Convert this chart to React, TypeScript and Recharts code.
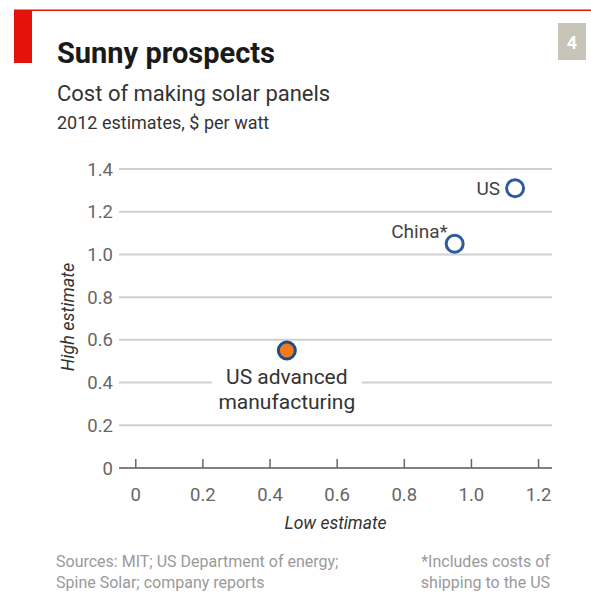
import { ScatterChart, Scatter, XAxis, YAxis, CartesianGrid, Label } from 'recharts';

const places = ['US', 'China*', 'US advanced manufacturing'];
const lowEstimate = [1.13, 0.95, 0.45];
const highEstimate = [1.31, 1.05, 0.55];
const xTicks = [0, 0.2, 0.4, 0.6, 0.8, 1.0, 1.2];
const yTicks = [0, 0.2, 0.4, 0.6, 0.8, 1.0, 1.2, 1.4];

const points = places.map((name, i) => ({ name, low: lowEstimate[i], high: highEstimate[i] }));

const FONT = 'Roboto, "Open Sans", sans-serif';
const BLUE = '#2c5b9e';
const fmt = (v: number) => (v === 0 ? '0' : v.toFixed(1));

function Dot(props: any) {
  const { cx, cy, payload } = props;
  const txt = { fontFamily: FONT, fill: '#444', dominantBaseline: 'central' as const };
  if (payload.name === 'US advanced manufacturing') {
    return (
      <g>
        <rect x={cx - 75} y={cy + 13} width={150} height={52} fill="#fff" />
        <text x={cx} y={cy + 26} textAnchor="middle" fontSize={21} {...txt} fill="#333">US advanced</text>
        <text x={cx} y={cy + 51} textAnchor="middle" fontSize={21} {...txt} fill="#333">manufacturing</text>
        <circle cx={cx} cy={cy} r={8.5} fill="#f37a1f" stroke="#1f4c85" strokeWidth={3} />
      </g>
    );
  }
  const isUS = payload.name === 'US';
  return (
    <g>
      <text x={cx + (isUS ? -15 : -7)} y={cy + (isUS ? 0 : -12)} textAnchor="end" fontSize={19} {...txt}>
        {payload.name}
      </text>
      <circle cx={cx} cy={cy} r={8.5} fill="#fff" stroke={BLUE} strokeWidth={3} />
    </g>
  );
}

function XTick(props: any) {
  const { x, y, payload } = props;
  return (
    <g>
      <line x1={x} x2={x} y1={y - 9} y2={y} stroke="#666" strokeWidth={1.5} />
      <text x={x} y={y + 27} textAnchor="middle" dominantBaseline="central" fontFamily={FONT} fontSize={18.5} fill="#666">
        {fmt(payload.value)}
      </text>
    </g>
  );
}

export default function App() {
  return (
    <div style={{ position: 'absolute', left: 0, top: 0, width: 591, height: 593, background: '#fff' }}>
      <ScatterChart width={591} height={593} margin={{ top: 169, right: 39, bottom: 60, left: 0 }}>
        <CartesianGrid vertical={false} stroke="#cfcfcf" strokeWidth={2} />
        <XAxis
          type="number"
          dataKey="low"
          domain={[-0.05, 1.24]}
          ticks={xTicks}
          tick={<XTick />}
          tickSize={0}
          tickMargin={0}
          tickLine={false}
          axisLine={{ stroke: '#666', strokeWidth: 1.5 }}
          height={65}
        >
          <Label
            content={(p: any) => (
              <text
                x={p.viewBox.x + p.viewBox.width / 2}
                y={523}
                textAnchor="middle"
                dominantBaseline="central"
                fontFamily={FONT}
                fontStyle="italic"
                fontSize={17.5}
                fill="#333"
              >
                Low estimate
              </text>
            )}
          />
        </XAxis>
        <YAxis
          type="number"
          dataKey="high"
          domain={[0, 1.4]}
          ticks={yTicks}
          tickFormatter={fmt}
          width={119}
          tickSize={0}
          tickMargin={6}
          axisLine={false}
          tickLine={false}
          tick={{ fontFamily: FONT, fontSize: 18.5, fill: '#666' }}
        >
          <Label
            content={() => (
              <text
                x={67}
                y={317}
                transform="rotate(-90 67 317)"
                textAnchor="middle"
                dominantBaseline="central"
                fontFamily={FONT}
                fontStyle="italic"
                fontSize={18}
                fill="#333"
              >
                High estimate
              </text>
            )}
          />
        </YAxis>
        <Scatter data={points} shape={<Dot />} isAnimationActive={false} />
      </ScatterChart>
      <svg width={591} height={593} style={{ position: 'absolute', left: 0, top: 0, pointerEvents: 'none' }}>
        <rect x={14} y={9.5} width={577} height={1.5} fill="#e3120b" />
        <rect x={14} y={10} width={18} height={53} fill="#e3120b" />
        <rect x={558} y={23} width={28} height={37} fill="#c7c4b8" />
        <text x={572} y={42} textAnchor="middle" dominantBaseline="central" fontFamily={FONT} fontWeight="bold" fontSize={18} fill="#fff">4</text>
        <text x={57} y={63} fontFamily={FONT} fontWeight="bold" fontSize={29} fill="#1a1a1a">Sunny prospects</text>
        <text x={57} y={101} fontFamily={FONT} fontSize={22} fill="#333">Cost of making solar panels</text>
        <text x={57} y={129} fontFamily={FONT} fontSize={18} fill="#333">2012 estimates, $ per watt</text>
        <text x={56} y={567} fontFamily={FONT} fontSize={16} fill="#9a9a9a">Sources: MIT; US Department of energy;</text>
        <text x={56} y={588} fontFamily={FONT} fontSize={16} fill="#9a9a9a">Spine Solar; company reports</text>
        <text x={550} y={567} textAnchor="end" fontFamily={FONT} fontSize={16} fill="#9a9a9a">*Includes costs of</text>
        <text x={550} y={588} textAnchor="end" fontFamily={FONT} fontSize={16} fill="#9a9a9a">shipping to the US</text>
      </svg>
    </div>
  );
}
